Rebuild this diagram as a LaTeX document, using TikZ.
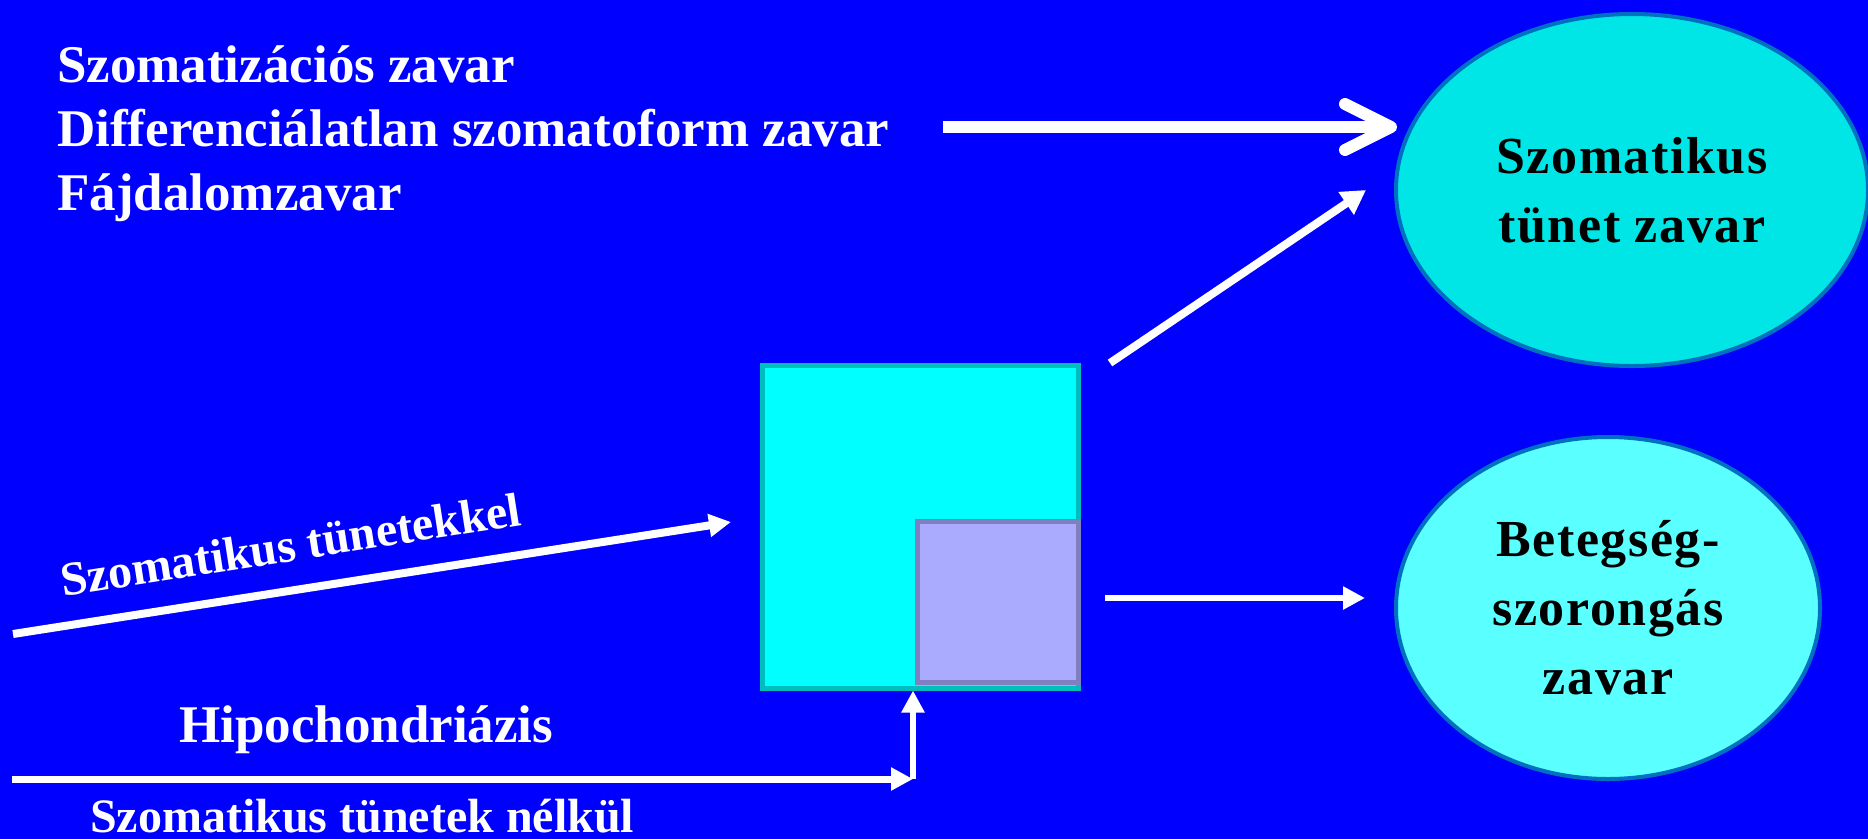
\documentclass[tikz,border=0pt]{standalone}
\usepackage{fontspec}
\setmainfont{Liberation Serif}
\newfontfamily\widefont[LetterSpace=3]{Liberation Serif}
\usetikzlibrary{arrows.meta,shapes.geometric}

\definecolor{slideblue}{RGB}{0,0,255}
\definecolor{ovalborder}{RGB}{0,112,192}
\definecolor{ovaldark}{RGB}{0,230,230}
\definecolor{ovallight}{RGB}{90,255,255}
\definecolor{boxcyan}{RGB}{0,255,255}
\definecolor{boxedge}{RGB}{0,190,190}
\definecolor{innerfill}{RGB}{170,170,255}
\definecolor{inneredge}{RGB}{128,128,192}

\begin{document}
\begin{tikzpicture}[x=1pt,y=-1pt,
      whitetext/.style={text=white,font=\fontsize{53}{64}\selectfont\bfseries,inner sep=0pt},
      oval/.style={ellipse,draw=ovalborder,line width=4pt,inner sep=0pt,
        align=center,font=\widefont\fontsize{52}{69}\selectfont\bfseries},
      square/.style={rectangle,line width=5pt,inner sep=0pt},
      barbarrow/.style={draw=white,line width=12pt,-{Straight Barb[length=46pt,width=46pt,round]}},
      thinarrow/.style={draw=white,line width=7pt,-{Triangle[length=22pt,width=22pt]}}]
  \useasboundingbox (0,0) rectangle (1868,839);
  \fill[slideblue] (0,0) rectangle (1868,839);

  % disorder list and the two ovals
  \node[whitetext,anchor=base west] (list1) at (57,82) {Szomatizációs zavar};
  \node[whitetext,anchor=base west] (list2) at (57,146) {Differenciálatlan szomatoform zavar};
  \node[whitetext,anchor=base west] (list3) at (57,210) {Fájdalomzavar};
  \node[oval,fill=ovaldark,minimum width=472pt,minimum height=352pt] (somatic) at (1632,190)
    {Szomatikus\\tünet zavar};
  \node[oval,fill=ovallight,minimum width=424pt,minimum height=342pt] (anxiety) at (1608,608)
    {Betegség-\\szorongás\\zavar};

  % the two squares
  \node[square,fill=boxcyan,draw=boxedge,minimum width=316pt,minimum height=323pt] (bigsq) at (920,526.5) {};
  \node[square,fill=innerfill,draw=inneredge,minimum width=161pt,minimum height=161pt] (smallsq) at (997.5,601.5) {};

  % arrow ends
  \coordinate (topstart) at (943,127);
  \coordinate (topend) at (1397,127);
  \coordinate (diagstart) at (1110,363);
  \coordinate (diagend) at (1366,190);
  \coordinate (midstart) at (1105,598);
  \coordinate (midend) at (1365,598);
  \coordinate (slantstart) at (13,634);
  \coordinate (slantend) at (731,522);
  \coordinate (lowstart) at (12,779);
  \coordinate (corner) at (913,779);

  \draw[barbarrow] (topstart) -- (topend);
  \draw[thinarrow,line width=8pt,-{Triangle[length=24pt,width=26pt]}] (diagstart) -- (diagend);
  \draw[thinarrow,line width=6pt] (midstart) -- (midend);
  \draw[thinarrow,line width=8pt] (slantstart) -- (slantend);
  \draw[thinarrow] (lowstart) -- (corner);
  \draw[thinarrow,line width=6pt] (corner) -- (corner |- bigsq.south);

  \node[whitetext,font=\fontsize{48}{58}\selectfont\bfseries,anchor=base west,rotate=8.9] (withsym) at (63,597)
    {Szomatikus tünetekkel};
  \node[whitetext,anchor=base west] (hypo) at (179,742) {Hipochondriázis};
  \node[whitetext,font=\fontsize{48}{58}\selectfont\bfseries,anchor=base west] (nosym) at (90,832)
    {Szomatikus tünetek nélkül};
\end{tikzpicture}
\end{document}
